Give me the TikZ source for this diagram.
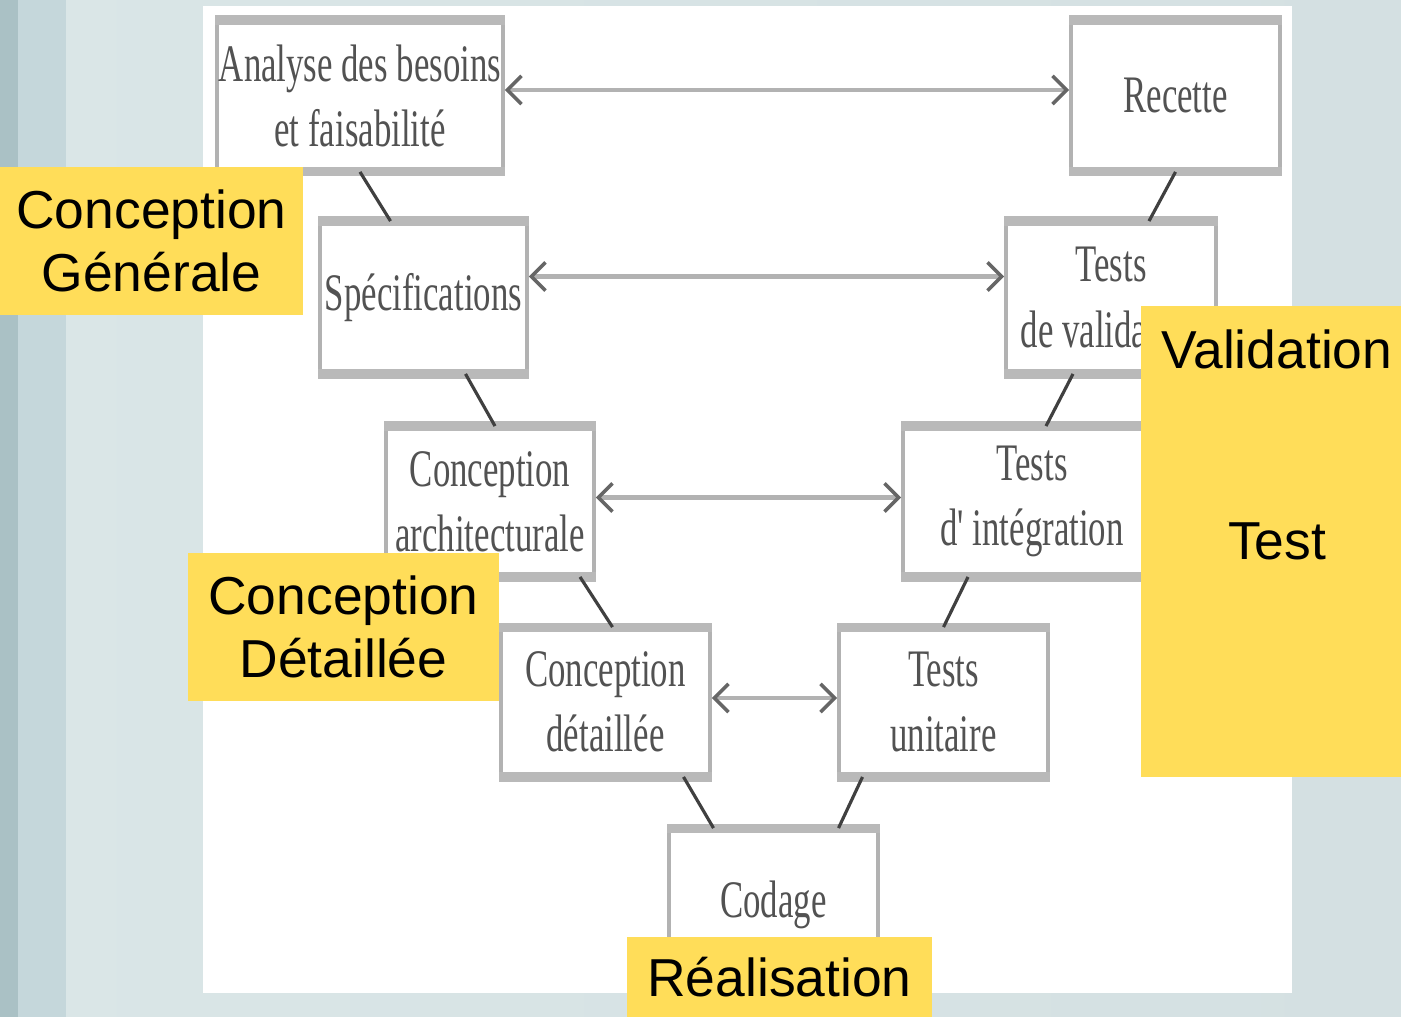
\documentclass[tikz,border=0pt]{standalone}
\usepackage{fontspec}
\setmainfont{Liberation Sans}
\newfontfamily\scanfont[FakeStretch=0.66]{Liberation Serif}
\usetikzlibrary{arrows.meta}

\definecolor{jaune}{RGB}{255,221,89}
\definecolor{fondg}{RGB}{218,230,231}
\definecolor{fondd}{RGB}{212,224,226}
\definecolor{bande1}{RGB}{170,193,197}
\definecolor{bande2}{RGB}{197,215,219}

\begin{document}
\begin{tikzpicture}[
    etape/.style={draw=gray!60, line width=1.1pt, fill=white, minimum width=2.09cm,
                  minimum height=1.48cm, inner sep=0pt, align=center, text=black!68,
                  font=\scanfont\fontsize{15}{18.5}\selectfont},
    phase/.style={fill=jaune, inner sep=0pt, align=center,
                  font=\fontsize{15.2}{17.9}\selectfont},
    lien/.style={draw=black!75, line width=0.9pt},
    retour/.style={<->, >={Straight Barb[length=4pt,width=8pt,line width=1pt,color=black!60]},
                   draw=gray!60, line width=1.4pt}]

    % Slide background
    \useasboundingbox (0,0) rectangle (14.01,-10.17);
    \shade[left color=fondg, right color=fondd] (0,0) rectangle (14.01,-10.17);
    \fill[bande1] (0,0) rectangle (0.18,-10.17);
    \fill[bande2] (0.18,0) rectangle (0.66,-10.17);
    \fill[white] (2.03,-0.06) rectangle (12.92,-9.93);

    % Define steps of the V
    \node[etape, minimum width=2.86cm] (analyse) at (3.60,-0.96) {Analyse des besoins\\et faisabilité};
    \node[etape] (recette) at (11.755,-0.96) {Recette};
    \node[etape, minimum width=2.07cm, minimum height=1.49cm] (specs) at (4.235,-2.975) {Spécifications};
    \node[etape, minimum width=2.10cm, minimum height=1.49cm] (tvalid) at (11.11,-2.975) {Tests\\de validation};
    \node[etape, minimum width=2.08cm, minimum height=1.47cm] (concarch) at (4.90,-5.015) {Conception\\architecturale};
    \node[etape, minimum width=2.58cm, minimum height=1.47cm] (tinteg) at (10.32,-5.015) {Tests\\d' intégration};
    \node[etape, minimum height=1.46cm] (concdet) at (6.055,-7.02) {Conception\\détaillée};
    \node[etape, minimum height=1.46cm] (tunit) at (9.435,-7.02) {Tests\\unitaire};
    \node[etape, minimum height=1.50cm] (codage) at (7.735,-9.05) {Codage};

    \foreach \n in {analyse,recette,specs,tvalid,concarch,tinteg,concdet,tunit,codage}
        \draw[gray!55, line width=2.6pt] (\n.north west) -- (\n.north east)
                                         (\n.south west) -- (\n.south east);

    % Draw links
    \draw[lien] (analyse.south) -- ([xshift=-0.33cm]specs.north);
    \draw[lien] ([xshift=0.42cm]specs.south) -- ([xshift=0.05cm]concarch.north);
    \draw[lien] ([xshift=0.90cm]concarch.south) -- ([xshift=0.07cm]concdet.north);
    \draw[lien] ([xshift=0.78cm]concdet.south) -- ([xshift=-0.60cm]codage.north);
    \draw[lien] (recette.south) -- ([xshift=0.38cm]tvalid.north);
    \draw[lien] ([xshift=-0.38cm]tvalid.south) -- ([xshift=0.14cm]tinteg.north);
    \draw[lien] ([xshift=-0.64cm]tinteg.south) -- (tunit.north);
    \draw[lien] ([xshift=-0.81cm]tunit.south) -- ([xshift=0.65cm]codage.north);

    \draw[retour] ([yshift=0.06cm]analyse.east) -- ([yshift=0.06cm]recette.west);
    \draw[retour] ([yshift=0.21cm]specs.east) -- ([yshift=0.21cm]tvalid.west);
    \draw[retour] ([yshift=0.04cm]concarch.east) -- ([yshift=0.04cm]tinteg.west);
    \draw[retour] ([yshift=0.04cm]concdet.east) -- ([yshift=0.04cm]tunit.west);

    % Phases
    \node[phase, minimum width=3.03cm, minimum height=1.48cm] (cgen) at (1.515,-2.41) {Conception\\Générale};
    \node[phase, minimum width=3.11cm, minimum height=1.48cm] (cdet) at (3.435,-6.27) {Conception\\Détaillée};
    \node[phase, minimum width=2.60cm, minimum height=4.71cm,
          label={[anchor=north, inner sep=0pt, xshift=0.06cm, yshift=-0.24cm,
                  font=\fontsize{15.2}{17.9}\selectfont]north:Validation}]
          (valtest) at (12.71,-5.415) {\hspace*{0.12cm}Test};
    \node[phase, minimum width=3.05cm, minimum height=0.80cm] (real) at (7.795,-9.77) {Réalisation};

\end{tikzpicture}
\end{document}
